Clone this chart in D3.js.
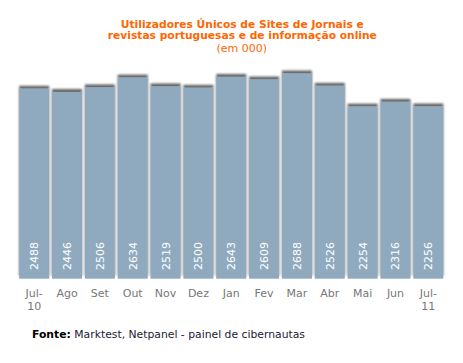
<!DOCTYPE html>
<html><head><meta charset="utf-8">
<script src="https://cdn.jsdelivr.net/npm/d3@7"></script>
<style>body{margin:0;background:#fff;} svg{display:block;}</style>
</head><body>
<script>
const months = ["Jul-10","Ago","Set","Out","Nov","Dez","Jan","Fev","Mar","Abr","Mai","Jun","Jul-11"];
const monthLines = [["Jul-","10"],["Ago"],["Set"],["Out"],["Nov"],["Dez"],["Jan"],["Fev"],["Mar"],["Abr"],["Mai"],["Jun"],["Jul-","11"]];
const values = [2488,2446,2506,2634,2519,2500,2643,2609,2688,2526,2254,2316,2256];
const titleLines = ["Utilizadores Únicos de Sites de Jornais e","revistas portuguesas e de informação online"];
const subtitle = "(em 000)";

const W=463,H=363;
const svg=d3.select("body").append("svg").attr("width",W).attr("height",H);
const defs=svg.append("defs");
const f=defs.append("filter").attr("id","sh").attr("x","-20%").attr("y","-20%").attr("width","140%").attr("height","140%");
f.append("feGaussianBlur").attr("in","SourceAlpha").attr("stdDeviation",1.2).attr("result","b");
f.append("feOffset").attr("in","b").attr("dy",-3.5).attr("result","o");
f.append("feComponentTransfer").attr("in","o").attr("result","c")
 .append("feFuncA").attr("type","linear").attr("slope",0.6);
const m=f.append("feMerge");m.append("feMergeNode").attr("in","c");m.append("feMergeNode").attr("in","SourceGraphic");

const font="Verdana, 'DejaVu Sans', sans-serif";
const x=d3.scaleBand().domain(months).range([18.5,444]).paddingInner(0.085).paddingOuter(0.02);
const y=d3.scaleLinear().domain([0,3000]).range([278.7,49.7]);

svg.append("g").selectAll("rect").data(values).join("rect")
 .attr("x",(d,i)=>x(months[i])).attr("width",x.bandwidth())
 .attr("y",d=>y(d)).attr("height",d=>y(0)-y(d))
 .attr("fill","#8FAABF").attr("filter","url(#sh)");

svg.append("g").selectAll("text").data(values).join("text")
 .attr("transform",(d,i)=>`translate(${x(months[i])+x.bandwidth()/2+4},270) rotate(-90)`)
 .attr("font-family",font).attr("font-size",11).attr("fill","#fff").text(d=>d);

const xl=svg.append("g").selectAll("text").data(monthLines).join("text")
 .attr("x",(d,i)=>x(months[i])+x.bandwidth()/2).attr("y",297)
 .attr("text-anchor","middle").attr("font-family",font).attr("font-size",11).attr("fill","#777");
xl.selectAll("tspan").data(d=>d).join("tspan")
 .attr("x",function(){return d3.select(this.parentNode).attr("x");})
 .attr("dy",(d,i)=>i?13:0).text(d=>d);

const tl=[243,269];
svg.append("g").selectAll("text").data(titleLines).join("text")
 .attr("x",242.3).attr("y",(d,i)=>27.5+i*11.8).attr("text-anchor","middle")
 .attr("textLength",(d,i)=>tl[i]).attr("lengthAdjust","spacingAndGlyphs")
 .attr("font-family",font).attr("font-size",11).attr("font-weight","bold").attr("fill","#FF6600").text(d=>d);
svg.append("text").attr("x",241.7).attr("y",52).attr("text-anchor","middle")
 .attr("font-family",font).attr("font-size",11).attr("fill","#FF6600").text(subtitle);

const ft=svg.append("text").attr("x",32).attr("y",338).attr("font-family",font).attr("font-size",11).attr("fill","#000")
 .attr("textLength",273).attr("lengthAdjust","spacingAndGlyphs");
ft.append("tspan").attr("font-weight","bold").text("Fonte:");
ft.append("tspan").attr("fill","#1a1a33").text(" Marktest, Netpanel - painel de cibernautas");
</script>
</body></html>
